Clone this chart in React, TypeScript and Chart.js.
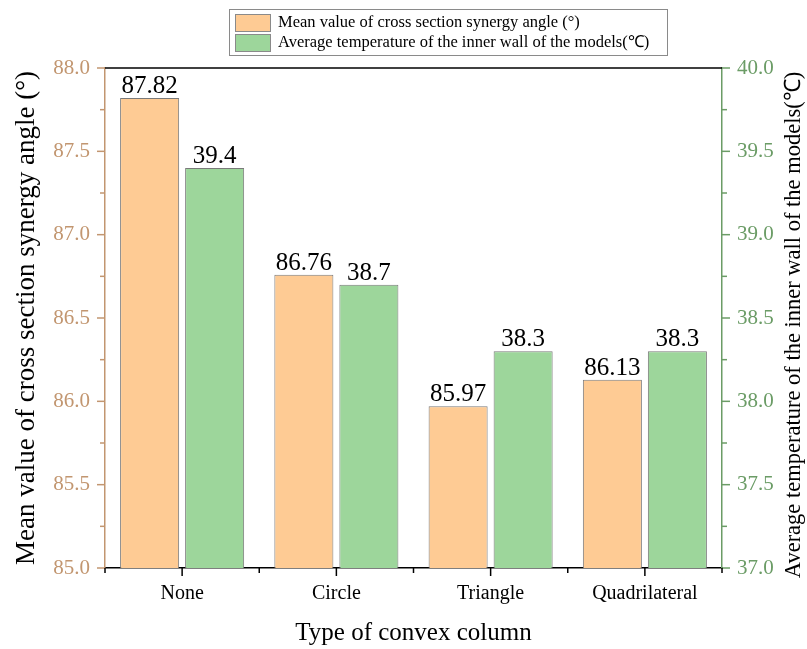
import { useEffect, useRef } from "react";
import { Chart, registerables } from "chart.js";

Chart.register(...registerables);

// Data
const categories = ["None", "Circle", "Triangle", "Quadrilateral"];
const synergyAngle = [87.82, 86.76, 85.97, 86.13];
const wallTemperature = [39.4, 38.7, 38.3, 38.3];
const angleRange = [85, 88];
const temperatureRange = [37, 40];
const tickStep = 0.5;

const seriesNames = [
  "Mean value of cross section synergy angle (°)",
  "Average temperature of the inner wall of the models(℃)",
];
const leftTitle = "Mean value of cross section synergy angle (°)";
const rightTitle = "Average temperature of the inner wall of the models(℃)";
const xTitle = "Type of convex column";

// Styling
const FONT = '"Liberation Serif", "Times New Roman", serif';
const ORANGE = "#fecb94";
const GREEN_FILL = "#9dd69b";
const BAR_EDGE = "#7a7a7a";
const TAN = "#c29670";
const GREEN_AXIS = "#6b9c66";

const decorations = {
  id: "decorations",
  afterDraw(chart: any) {
    const ctx: CanvasRenderingContext2D = chart.ctx;
    const { left, right, top, bottom } = chart.chartArea;
    const xs = chart.scales.x;
    const ys = chart.scales.y;
    const y1s = chart.scales.y1;
    ctx.save();

    // top frame line
    ctx.strokeStyle = "#000";
    ctx.lineWidth = 1.5;
    ctx.beginPath();
    ctx.moveTo(left, top);
    ctx.lineTo(right, top);
    ctx.stroke();

    // vertical axis ticks (major + minor)
    const yTicks = (scale: any, xPos: number, dir: number, color: string) => {
      ctx.strokeStyle = color;
      ctx.lineWidth = 1.5;
      const minorStep = tickStep / 2;
      const n = Math.round((scale.max - scale.min) / minorStep);
      for (let i = 0; i <= n; i++) {
        const v = scale.min + i * minorStep;
        const len = i % 2 === 0 ? 8 : 5;
        const py = scale.getPixelForValue(v);
        ctx.beginPath();
        ctx.moveTo(xPos, py);
        ctx.lineTo(xPos + dir * len, py);
        ctx.stroke();
      }
    };
    yTicks(ys, left, -1, TAN);
    yTicks(y1s, right, 1, GREEN_AXIS);

    // category axis ticks
    ctx.strokeStyle = "#000";
    ctx.lineWidth = 1.5;
    for (let i = 0; i < categories.length; i++) {
      const px = xs.getPixelForValue(i);
      ctx.beginPath();
      ctx.moveTo(px, bottom);
      ctx.lineTo(px, bottom + 8);
      ctx.stroke();
    }
    for (let i = 0; i <= categories.length; i++) {
      const px = xs.getPixelForValue(i - 0.5);
      ctx.beginPath();
      ctx.moveTo(px, bottom);
      ctx.lineTo(px, bottom + 5);
      ctx.stroke();
    }

    // right axis title, reading bottom to top
    ctx.fillStyle = "#000";
    ctx.font = `22.5px ${FONT}`;
    ctx.textAlign = "center";
    ctx.textBaseline = "middle";
    ctx.save();
    ctx.translate(right + 72, (top + bottom) / 2 + 7);
    ctx.rotate(-Math.PI / 2);
    ctx.fillText(rightTitle, 0, 0);
    ctx.restore();

    // legend
    const boxL = 229;
    const boxT = 9;
    const boxW = 438;
    const boxH = 46;
    ctx.strokeStyle = "#8a8a8a";
    ctx.lineWidth = 1;
    ctx.strokeRect(boxL + 0.5, boxT + 0.5, boxW, boxH);
    const fills = [ORANGE, GREEN_FILL];
    ctx.font = `16.5px ${FONT}`;
    ctx.textAlign = "left";
    seriesNames.forEach((name, i) => {
      const rowT = boxT + 5 + i * 20;
      ctx.fillStyle = fills[i];
      ctx.fillRect(boxL + 6, rowT, 35, 17);
      ctx.strokeStyle = "#8a8a8a";
      ctx.strokeRect(boxL + 6.5, rowT + 0.5, 35, 17);
      ctx.fillStyle = "#000";
      ctx.fillText(name, boxL + 49, rowT + 9);
    });

    ctx.restore();
  },
  afterDatasetsDraw(chart: any) {
    const ctx: CanvasRenderingContext2D = chart.ctx;
    ctx.save();
    ctx.fillStyle = "#000";
    ctx.font = `25px ${FONT}`;
    ctx.textAlign = "center";
    ctx.textBaseline = "alphabetic";
    const sets = [
      { values: synergyAngle, digits: 2 },
      { values: wallTemperature, digits: 1 },
    ];
    sets.forEach((s, di) => {
      const meta = chart.getDatasetMeta(di);
      meta.data.forEach((bar: any, j: number) => {
        ctx.fillText(s.values[j].toFixed(s.digits), bar.x, bar.y - 5);
      });
    });
    ctx.restore();
  },
};

export default function App() {
  const canvasRef = useRef<HTMLCanvasElement | null>(null);

  useEffect(() => {
    if (!canvasRef.current) return;
    const chart = new Chart(canvasRef.current, {
      type: "bar",
      data: {
        labels: categories,
        datasets: [
          {
            label: seriesNames[0],
            data: synergyAngle,
            yAxisID: "y",
            backgroundColor: ORANGE,
            borderColor: BAR_EDGE,
            borderWidth: 1,
            categoryPercentage: 0.843,
            barPercentage: 0.908,
          },
          {
            label: seriesNames[1],
            data: wallTemperature,
            yAxisID: "y1",
            backgroundColor: GREEN_FILL,
            borderColor: BAR_EDGE,
            borderWidth: 1,
            categoryPercentage: 0.843,
            barPercentage: 0.908,
          },
        ],
      },
      options: {
        responsive: true,
        maintainAspectRatio: false,
        animation: false,
        layout: { padding: { top: 68, left: 0, right: 0, bottom: 0 } },
        plugins: {
          legend: { display: false },
          tooltip: { enabled: false },
        },
        scales: {
          x: {
            position: "bottom",
            offset: true,
            grid: { display: false, drawTicks: false },
            border: { display: true, color: "#000", width: 1.5 },
            ticks: {
              color: "#000",
              font: { family: FONT, size: 20 },
              padding: 14,
              maxRotation: 0,
            },
            title: {
              display: true,
              text: xTitle,
              color: "#000",
              font: { family: FONT, size: 25 },
              padding: { top: 0, bottom: 1 },
            },
            afterFit(scale: any) {
              scale.height = 81;
            },
          },
          y: {
            position: "left",
            min: angleRange[0],
            max: angleRange[1],
            grid: { display: false, drawTicks: false },
            border: { display: true, color: TAN, width: 1.5 },
            ticks: {
              stepSize: tickStep,
              color: TAN,
              font: { family: FONT, size: 21 },
              padding: 15,
              callback: (v: any) => Number(v).toFixed(1),
            },
            title: {
              display: true,
              text: leftTitle,
              color: "#000",
              font: { family: FONT, size: 27 },
              padding: { top: 11, bottom: 0 },
            },
            afterFit(scale: any) {
              scale.width = 105;
            },
          },
          y1: {
            position: "right",
            min: temperatureRange[0],
            max: temperatureRange[1],
            grid: { display: false, drawTicks: false },
            border: { display: true, color: GREEN_AXIS, width: 1.5 },
            ticks: {
              stepSize: tickStep,
              color: GREEN_AXIS,
              font: { family: FONT, size: 21 },
              padding: 15,
              callback: (v: any) => Number(v).toFixed(1),
            },
            afterFit(scale: any) {
              scale.width = 85;
            },
          },
        },
      } as any,
      plugins: [decorations],
    });
    return () => chart.destroy();
  }, []);

  return (
    <div style={{ position: "fixed", left: 0, top: 0, width: 807, height: 649, background: "#fff" }}>
      <canvas ref={canvasRef} />
    </div>
  );
}
